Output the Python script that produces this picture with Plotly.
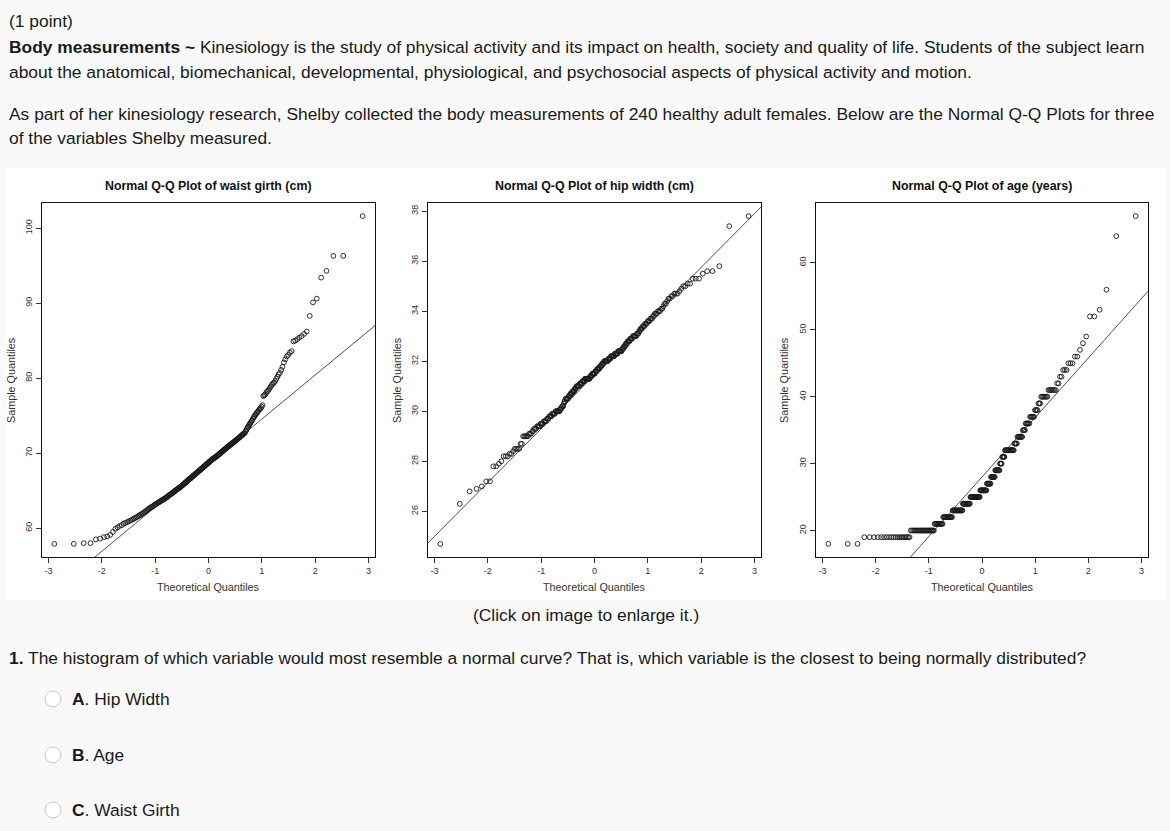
import math
from statistics import NormalDist
import plotly.graph_objects as go

# ---------------- data ----------------
waist_girth = [
    57.9, 57.9, 58.0, 58.0, 58.5, 58.6, 58.8, 58.9, 59.1, 59.5,
    59.9, 60.1, 60.3, 60.4, 60.6, 60.7, 60.8, 60.9, 61.0, 61.1,
    61.2, 61.3, 61.4, 61.5, 61.6, 61.7, 61.8, 61.9, 62.0, 62.1,
    62.2, 62.3, 62.4, 62.5, 62.6, 62.7, 62.8, 62.8, 62.9, 63.0,
    63.1, 63.2, 63.2, 63.3, 63.4, 63.4, 63.5, 63.6, 63.6, 63.7,
    63.8, 63.8, 63.9, 63.9, 64.0, 64.1, 64.1, 64.2, 64.3, 64.4,
    64.4, 64.5, 64.5, 64.6, 64.7, 64.7, 64.8, 64.9, 64.9, 65.0,
    65.1, 65.1, 65.2, 65.2, 65.3, 65.4, 65.4, 65.5, 65.5, 65.6,
    65.7, 65.7, 65.8, 65.9, 65.9, 66.0, 66.1, 66.1, 66.2, 66.3,
    66.3, 66.4, 66.5, 66.5, 66.6, 66.6, 66.7, 66.8, 66.8, 66.9,
    67.0, 67.0, 67.1, 67.1, 67.2, 67.3, 67.3, 67.4, 67.4, 67.5,
    67.6, 67.6, 67.7, 67.7, 67.8, 67.9, 67.9, 68.0, 68.0, 68.1,
    68.2, 68.2, 68.3, 68.3, 68.4, 68.5, 68.5, 68.6, 68.6, 68.7,
    68.8, 68.8, 68.9, 68.9, 69.0, 69.1, 69.1, 69.2, 69.2, 69.3,
    69.3, 69.4, 69.4, 69.5, 69.5, 69.6, 69.6, 69.7, 69.7, 69.8,
    69.9, 69.9, 70.0, 70.0, 70.1, 70.2, 70.2, 70.3, 70.3, 70.4,
    70.5, 70.5, 70.6, 70.6, 70.7, 70.8, 70.8, 70.9, 70.9, 71.0,
    71.1, 71.1, 71.2, 71.2, 71.3, 71.4, 71.4, 71.5, 71.5, 71.6,
    71.7, 71.7, 71.8, 71.9, 71.9, 72.0, 72.1, 72.1, 72.2, 72.3,
    72.4, 72.4, 72.5, 72.6, 72.6, 72.7, 72.9, 73.0, 73.2, 73.4,
    73.5, 73.7, 73.8, 74.0, 74.1, 74.3, 74.4, 74.6, 74.8, 74.9,
    75.1, 75.2, 75.4, 75.5, 75.6, 75.8, 75.9, 76.0, 76.2, 76.4,
    77.6, 77.7, 77.8, 78.0, 78.2, 78.3, 78.5, 78.7, 78.9, 79.1,
    79.3, 79.4, 79.6, 79.9, 80.2, 80.5, 80.7, 81.1, 81.5, 82.1,
    82.5, 82.9, 83.1, 83.4, 83.6, 84.9, 85.0, 85.2, 85.4, 85.6,
    85.9, 86.2, 88.3, 90.1, 90.6, 93.4, 94.3, 96.3, 96.3, 101.6,
]

hip_width = [
    24.7, 26.3, 26.8, 26.9, 27.0, 27.2, 27.2, 27.8, 27.8, 27.9,
    28.0, 28.2, 28.2, 28.2, 28.3, 28.3, 28.4, 28.5, 28.5, 28.5,
    28.5, 28.7, 28.7, 29.0, 29.0, 29.0, 29.0, 29.0, 29.1, 29.1,
    29.1, 29.2, 29.2, 29.3, 29.3, 29.3, 29.4, 29.4, 29.4, 29.4,
    29.5, 29.5, 29.5, 29.5, 29.6, 29.6, 29.6, 29.6, 29.7, 29.7,
    29.7, 29.8, 29.8, 29.8, 29.8, 29.9, 29.9, 29.9, 29.9, 29.9,
    30.0, 30.0, 30.0, 30.0, 30.0, 30.0, 30.0, 30.1, 30.1, 30.1,
    30.2, 30.2, 30.2, 30.3, 30.4, 30.4, 30.5, 30.5, 30.5, 30.5,
    30.5, 30.6, 30.6, 30.6, 30.7, 30.7, 30.7, 30.7, 30.8, 30.8,
    30.8, 30.8, 30.9, 30.9, 30.9, 31.0, 31.0, 31.0, 31.0, 31.0,
    31.0, 31.1, 31.1, 31.1, 31.1, 31.1, 31.2, 31.2, 31.2, 31.2,
    31.2, 31.3, 31.3, 31.3, 31.3, 31.3, 31.3, 31.3, 31.3, 31.3,
    31.3, 31.4, 31.4, 31.4, 31.4, 31.5, 31.5, 31.5, 31.5, 31.5,
    31.5, 31.6, 31.6, 31.6, 31.6, 31.7, 31.7, 31.7, 31.7, 31.7,
    31.8, 31.8, 31.8, 31.8, 31.9, 31.9, 31.9, 31.9, 32.0, 32.0,
    32.0, 32.0, 32.0, 32.0, 32.0, 32.0, 32.1, 32.1, 32.1, 32.1,
    32.1, 32.2, 32.2, 32.2, 32.2, 32.2, 32.2, 32.2, 32.3, 32.3,
    32.3, 32.3, 32.3, 32.3, 32.4, 32.4, 32.4, 32.4, 32.4, 32.4,
    32.4, 32.5, 32.5, 32.5, 32.6, 32.6, 32.6, 32.7, 32.7, 32.7,
    32.8, 32.8, 32.8, 32.8, 32.9, 32.9, 32.9, 32.9, 33.0, 33.0,
    33.0, 33.0, 33.0, 33.0, 33.1, 33.1, 33.1, 33.2, 33.2, 33.3,
    33.3, 33.3, 33.4, 33.4, 33.4, 33.5, 33.5, 33.5, 33.6, 33.6,
    33.6, 33.7, 33.7, 33.7, 33.8, 33.8, 33.9, 33.9, 33.9, 34.0,
    34.0, 34.0, 34.1, 34.1, 34.2, 34.3, 34.3, 34.4, 34.5, 34.5,
    34.6, 34.6, 34.7, 34.7, 34.7, 34.8, 34.9, 35.0, 35.0, 35.1,
    35.1, 35.3, 35.3, 35.3, 35.5, 35.6, 35.6, 35.8, 37.4, 37.8,
]

age_years = [18, 19, 20, 21, 22, 23, 24, 25, 26, 27, 28, 29, 30, 31, 32, 33, 34,
             35, 36, 37, 38, 39, 40, 41, 42, 43, 44, 45, 46, 47, 48, 49, 52, 53,
             56, 64, 67]
age_counts = [3, 20, 25, 12, 15, 18, 14, 19, 13, 8, 8, 9, 4, 5, 16, 5, 8,
              4, 6, 6, 4, 3, 7, 7, 2, 2, 3, 3, 2, 1, 1, 1, 2, 1,
              1, 1, 1]

x_tick_vals = [-3, -2, -1, 0, 1, 2, 3]
x_tick_text = ["-3", "-2", "-1", "0", "1", "2", "3"]
waist_ticks = [60, 70, 80, 90, 100]
hip_ticks = [26, 28, 30, 32, 34, 36, 38]
age_ticks = [20, 30, 40, 50, 60]

plot_titles = ["Normal Q-Q Plot of waist girth (cm)",
               "Normal Q-Q Plot of hip width (cm)",
               "Normal Q-Q Plot of age (years)"]
x_title = "Theoretical Quantiles"
y_title = "Sample Quantiles"

page_text = [
    ("(1 point)", 21),
    ("<b>Body measurements ~</b> Kinesiology is the study of physical activity and its impact on health, society and quality of life. Students of the subject learn", 47),
    ("about the anatomical, biomechanical, developmental, physiological, and psychosocial aspects of physical activity and motion.", 72),
    ("As part of her kinesiology research, Shelby collected the body measurements of 240 healthy adult females. Below are the Normal Q-Q Plots for three", 114),
    ("of the variables Shelby measured.", 138),
    ("<b>1.</b> The histogram of which variable would most resemble a normal curve? That is, which variable is the closest to being normally distributed?", 658),
]
choices = [("<b>A</b>. Hip Width", 699), ("<b>B</b>. Age", 755), ("<b>C</b>. Waist Girth", 810)]
click_note = "(Click on image to enlarge it.)"

# ---------------- helpers ----------------
W, H = 1170, 831
nd = NormalDist()


def px(x):
    return x / W


def py(y):
    return 1 - y / H


def qq(sample):
    s = sorted(sample)
    n = len(s)
    t = [nd.inv_cdf((i - 0.5) / n) for i in range(1, n + 1)]
    return t, s


def q7(s, p):
    h = (len(s) - 1) * p
    lo = int(math.floor(h))
    hi = min(lo + 1, len(s) - 1)
    return s[lo] + (h - lo) * (s[hi] - s[lo])


def qqline(s):
    q1, q3 = q7(s, 0.25), q7(s, 0.75)
    z1, z3 = nd.inv_cdf(0.25), nd.inv_cdf(0.75)
    slope = (q3 - q1) / (z3 - z1)
    return q1 - slope * z1, slope


def rng(v):
    lo, hi = min(v), max(v)
    d = (hi - lo) * 0.04
    return [lo - d, hi + d]


age_sample = []
for a, c in zip(age_years, age_counts):
    age_sample += [a] * c

datasets = [(waist_girth, waist_ticks), (hip_width, hip_ticks), (age_sample, age_ticks)]

# plot boxes in pixels (left, right, top, bottom)
boxes = [(42, 375, 203, 557), (428, 761, 203, 557), (816, 1148, 203, 557)]
ylab_x = [11, 397, 784]

FONT = "Liberation Sans, Arial, sans-serif"
fig = go.Figure()
layout = dict(
    width=W, height=H, margin=dict(l=0, r=0, t=0, b=0),
    paper_bgcolor="#f9f9f9", plot_bgcolor="#ffffff",
    showlegend=False, font=dict(family=FONT, color="#111"),
    shapes=[], annotations=[],
)

layout["shapes"].append(dict(type="rect", xref="paper", yref="paper",
                             x0=px(7), x1=px(1166), y0=py(600), y1=py(168),
                             fillcolor="#ffffff", line=dict(width=0), layer="below"))


def ann(text, x, y, size, color="#111", xanchor="center", angle=0, weight=None):
    return dict(text=text, x=px(x), y=py(y), xref="paper", yref="paper",
                xanchor=xanchor, yanchor="middle", showarrow=False, textangle=angle,
                font=dict(size=size, color=color, family=FONT))


for k, ((sample, yt), box, title, ylx) in enumerate(zip(datasets, boxes, plot_titles, ylab_x)):
    t, s = qq(sample)
    xr = rng(t)
    yr = rng(s)
    a, b = qqline(s)
    sfx = "" if k == 0 else str(k + 1)
    fig.add_trace(go.Scatter(x=t, y=s, mode="markers", xaxis="x" + sfx, yaxis="y" + sfx,
                             marker=dict(symbol="circle-open", size=4.8, color="#1a1a1a",
                                         line=dict(width=0.9, color="#1a1a1a")),
                             hoverinfo="skip"))
    fig.add_trace(go.Scatter(x=xr, y=[a + b * xr[0], a + b * xr[1]], mode="lines",
                             xaxis="x" + sfx, yaxis="y" + sfx,
                             line=dict(color="#222", width=0.8), hoverinfo="skip"))
    l, r, tp, bt = box
    axcommon = dict(showgrid=False, zeroline=False, showline=True, mirror=True,
                    linecolor="#111", linewidth=1.2, ticks="outside", ticklen=5,
                    tickcolor="#333", tickwidth=0.8,
                    tickfont=dict(size=9, color="#333", family=FONT))
    layout["xaxis" + sfx] = dict(axcommon, domain=[px(l), px(r)], range=xr,
                                 anchor="y" + sfx, tickvals=x_tick_vals, ticktext=x_tick_text)
    layout["yaxis" + sfx] = dict(axcommon, domain=[py(bt), py(tp)], range=yr,
                                 anchor="x" + sfx, tickvals=yt, ticktext=[str(v) for v in yt],
                                 tickangle=-90)
    cx = (l + r) / 2
    layout["annotations"].append(ann("<b>" + title + "</b>", cx, 186, 12.4))
    layout["annotations"].append(ann(x_title, cx, 587, 10.8, color="#333"))
    layout["annotations"].append(ann(y_title, ylx, (tp + bt) / 2, 10.8, color="#333", angle=-90))

PAGE_SIZE = 17.4
for txt, yy in page_text:
    layout["annotations"].append(ann(txt, 7, yy, PAGE_SIZE, color="#1a1a1a", xanchor="left"))
layout["annotations"].append(ann(click_note, 586, 615, PAGE_SIZE, color="#1a1a1a"))
for txt, yy in choices:
    layout["annotations"].append(ann(txt, 70, yy, PAGE_SIZE, color="#1a1a1a", xanchor="left"))
    layout["shapes"].append(dict(type="circle", xref="paper", yref="paper",
                                 x0=px(45), x1=px(61), y0=py(yy + 8), y1=py(yy - 8),
                                 fillcolor="#ffffff", line=dict(color="#c8c8c8", width=1)))

fig.update_layout(**layout)
fig.write_html("out.html", post_script="document.body.style.margin='0px';",
               config={"displayModeBar": False})
